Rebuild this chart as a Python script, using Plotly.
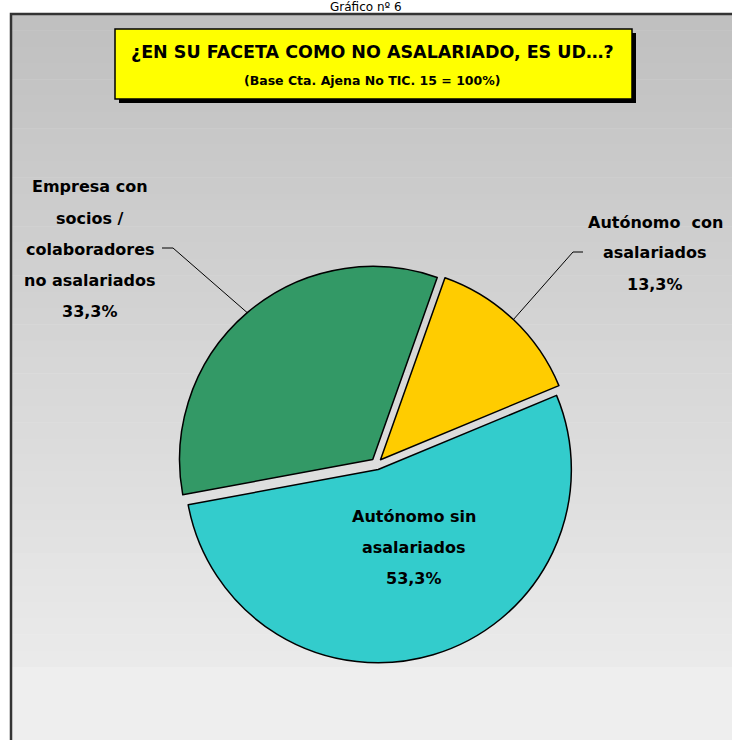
import math
import plotly.graph_objects as go

# ---- data ----
categories = ["Autónomo  con asalariados", "Autónomo sin asalariados",
              "Empresa con socios / colaboradores no asalariados"]
label_lines = [["Autónomo  con", "asalariados"],
               ["Autónomo sin", "asalariados"],
               ["Empresa con", "socios /", "colaboradores", "no asalariados"]]
values = [13.3, 53.3, 33.3]
colors = ["#FFCC00", "#33CCCC", "#339966"]

title_text = "¿EN SU FACETA COMO NO ASALARIADO, ES UD…?"
subtitle_text = "(Base Cta. Ajena No TIC. 15 = 100%)"
top_text = "Gráfico nº 6"

W, H = 732, 740
FONT = "Comic Sans MS, DejaVu Sans, sans-serif"

def px(x):
    return x / W

def py(y):
    return 1 - y / H

# pie geometry (pixels)
cx, cy, side = 376.5, 464.0, 398.0
pull = 0.03
rotation = 19.5
R = side / (2 + 2 * pull)
d = R * pull

fig = go.Figure()
fig.add_trace(go.Pie(
    labels=categories, values=values, sort=False, direction="clockwise",
    rotation=rotation, pull=[pull] * 3,
    marker=dict(colors=colors, line=dict(color="black", width=1.5)),
    textinfo="none", hoverinfo="label+percent", showlegend=False,
    domain=dict(x=[px(cx - side / 2), px(cx + side / 2)],
                y=[py(cy + side / 2), py(cy - side / 2)]),
))

shapes = []
# background gradient frame
top, grad_end = 14, 667
n = 40
for i in range(n):
    y0 = top + (grad_end - top) * i / n
    y1 = top + (grad_end - top) * (i + 1) / n
    c = round(192 + (234 - 192) * i / (n - 1))
    shapes.append(dict(type="rect", xref="paper", yref="paper", layer="below",
                       x0=px(10), x1=px(W + 10), y0=py(y1 + 0.5), y1=py(y0),
                       fillcolor=f"rgb({c},{c},{c})", line=dict(width=0)))
shapes.append(dict(type="rect", xref="paper", yref="paper", layer="below",
                   x0=px(10), x1=px(W + 10), y0=py(H + 10), y1=py(grad_end),
                   fillcolor="#EEEEEE", line=dict(width=0)))
shapes.append(dict(type="rect", xref="paper", yref="paper", layer="below",
                   x0=px(11), x1=px(W + 10), y0=py(H + 10), y1=py(14),
                   fillcolor="rgba(0,0,0,0)", line=dict(color="#333333", width=2.5)))
# title box with shadow
shapes.append(dict(type="rect", xref="paper", yref="paper", layer="below",
                   x0=px(119), x1=px(636), y0=py(103), y1=py(33),
                   fillcolor="black", line=dict(width=0)))
shapes.append(dict(type="rect", xref="paper", yref="paper", layer="below",
                   x0=px(115), x1=px(632), y0=py(99), y1=py(29),
                   fillcolor="#FFFF00", line=dict(color="black", width=1.5)))

# leader lines computed from slice mid-angles
total = sum(values)
starts = []
acc = rotation
for v in values:
    starts.append(acc)
    acc += 360 * v / total

def edge_point(i):
    mid = math.radians(starts[i] + 180 * values[i] / total)
    ccx = cx + d * math.sin(mid)
    ccy = cy - d * math.cos(mid)
    return ccx + R * math.sin(mid), ccy - R * math.cos(mid)

ex, ey = edge_point(2)
shapes.append(dict(type="path", xref="paper", yref="paper",
                   path=f"M {px(162)},{py(248)} L {px(173)},{py(248)} L {px(ex)},{py(ey)}",
                   line=dict(color="black", width=1)))
ex, ey = edge_point(0)
shapes.append(dict(type="path", xref="paper", yref="paper",
                   path=f"M {px(ex)},{py(ey)} L {px(573)},{py(252)} L {px(583)},{py(252)}",
                   line=dict(color="black", width=1)))

annotations = []

def add_text(x, y, text, size, bold=True, color="black"):
    annotations.append(dict(xref="paper", yref="paper", x=px(x), y=py(y),
                            text=f"<b>{text}</b>" if bold else text, showarrow=False,
                            xanchor="center", yanchor="middle",
                            font=dict(family=FONT, size=size, color=color)))

def pct(v):
    return f"{v:.1f}".replace(".", ",") + "%"

# slice labels
label_pos = [(655, 222), (414, 516), (90, 187)]
for i, (lx, ly) in enumerate(label_pos):
    lines = label_lines[i] + [pct(values[i])]
    for k, t in enumerate(lines):
        add_text(lx, ly + 31 * k, t, 16)

add_text(372, 52, title_text, 17.5)
add_text(373, 80, subtitle_text, 12.5)
add_text(366, 7.5, top_text, 12, bold=False)

fig.update_layout(width=W, height=H, margin=dict(l=0, r=0, t=0, b=0),
                  paper_bgcolor="white", plot_bgcolor="white",
                  shapes=shapes, annotations=annotations)
fig.write_html("out.html", config={"displayModeBar": False},
               post_script="document.body.style.margin='0';document.body.style.overflow='hidden';")
